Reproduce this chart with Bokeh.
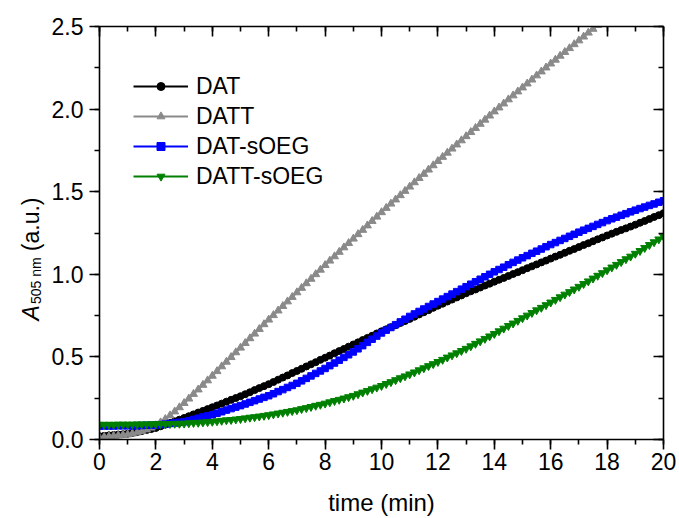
import math
from bokeh.plotting import figure
from bokeh.layouts import row
from bokeh.models import (Range1d, LinearAxis, SingleIntervalTicker, PrintfTickFormatter,
                          CustomJSTickFormatter, Legend, LegendItem)
from bokeh.core.properties import value
from bokeh.embed import file_html
from bokeh.resources import INLINE

# ---------------- data ----------------
time_step_min = 1.0 / 6.0          # one reading every 10 s
n_points = 121
time_min = [round(i * time_step_min, 4) for i in range(n_points)]

dat = [0.020,0.022,0.025,0.027,0.030,0.032,
       0.035,0.040,0.045,0.051,0.057,0.063,
       0.070,0.080,0.090,0.100,0.110,0.120,
       0.130,0.141,0.152,0.163,0.173,0.184,
       0.195,0.206,0.217,0.229,0.240,0.251,
       0.262,0.274,0.286,0.299,0.311,0.323,
       0.335,0.348,0.362,0.375,0.388,0.402,
       0.415,0.428,0.442,0.455,0.468,0.482,
       0.495,0.508,0.522,0.535,0.548,0.562,
       0.575,0.588,0.602,0.615,0.628,0.642,
       0.655,0.667,0.680,0.692,0.705,0.717,
       0.730,0.743,0.757,0.770,0.783,0.797,
       0.810,0.822,0.835,0.847,0.860,0.872,
       0.885,0.897,0.908,0.920,0.932,0.943,
       0.955,0.967,0.978,0.990,1.002,1.013,
       1.025,1.037,1.048,1.060,1.072,1.083,
       1.095,1.107,1.118,1.130,1.142,1.153,
       1.165,1.177,1.188,1.200,1.212,1.223,
       1.235,1.246,1.257,1.268,1.278,1.289,
       1.300,1.312,1.323,1.335,1.347,1.358,
       1.370]

datt = [0.012,0.015,0.018,0.021,0.024,0.027,
        0.030,0.035,0.042,0.050,0.060,0.071,
        0.085,0.103,0.123,0.145,0.169,0.194,
        0.220,0.247,0.275,0.302,0.330,0.357,
        0.385,0.413,0.442,0.470,0.498,0.527,
        0.555,0.583,0.612,0.640,0.668,0.697,
        0.725,0.752,0.780,0.807,0.835,0.862,
        0.890,0.917,0.945,0.972,1.000,1.027,
        1.055,1.082,1.108,1.135,1.162,1.188,
        1.215,1.242,1.268,1.295,1.322,1.348,
        1.375,1.401,1.427,1.452,1.478,1.504,
        1.530,1.556,1.582,1.607,1.633,1.659,
        1.685,1.710,1.735,1.760,1.785,1.810,
        1.835,1.860,1.885,1.910,1.935,1.960,
        1.985,2.009,2.033,2.058,2.082,2.106,
        2.130,2.154,2.178,2.203,2.227,2.251,
        2.275,2.298,2.322,2.345,2.368,2.392,
        2.415,2.438,2.462,2.485,2.508,2.532,
        2.555,2.578,2.600,2.623,2.645,2.668,
        2.690,2.712,2.735,2.758,2.780,2.802,
        2.825]

dat_soeg = [0.082,0.082,0.082,0.082,0.083,0.083,
            0.083,0.083,0.084,0.085,0.086,0.087,
            0.088,0.090,0.093,0.097,0.100,0.104,
            0.108,0.114,0.121,0.129,0.136,0.143,
            0.150,0.159,0.168,0.178,0.187,0.196,
            0.205,0.215,0.225,0.235,0.245,0.255,
            0.265,0.277,0.290,0.302,0.315,0.327,
            0.340,0.355,0.370,0.385,0.400,0.415,
            0.430,0.447,0.463,0.480,0.497,0.513,
            0.530,0.549,0.568,0.588,0.607,0.626,
            0.645,0.662,0.678,0.695,0.712,0.728,
            0.745,0.760,0.775,0.790,0.805,0.820,
            0.835,0.850,0.865,0.880,0.895,0.910,
            0.925,0.940,0.955,0.970,0.985,1.000,
            1.015,1.029,1.043,1.058,1.072,1.086,
            1.100,1.113,1.127,1.140,1.153,1.167,
            1.180,1.192,1.205,1.217,1.230,1.242,
            1.255,1.267,1.278,1.290,1.302,1.313,
            1.325,1.336,1.346,1.357,1.367,1.378,
            1.388,1.398,1.407,1.417,1.426,1.436,
            1.445]

datt_soeg = [0.090,0.090,0.090,0.090,0.091,0.091,
             0.091,0.091,0.092,0.092,0.092,0.093,
             0.093,0.094,0.094,0.095,0.096,0.096,
             0.097,0.099,0.101,0.102,0.104,0.106,
             0.108,0.111,0.114,0.117,0.119,0.122,
             0.125,0.129,0.133,0.136,0.140,0.144,
             0.148,0.153,0.158,0.163,0.168,0.173,
             0.178,0.185,0.191,0.198,0.205,0.211,
             0.218,0.226,0.234,0.241,0.249,0.257,
             0.265,0.275,0.285,0.295,0.305,0.315,
             0.325,0.337,0.348,0.360,0.372,0.383,
             0.395,0.407,0.420,0.432,0.445,0.457,
             0.470,0.483,0.497,0.510,0.523,0.537,
             0.550,0.565,0.580,0.595,0.610,0.625,
             0.640,0.656,0.672,0.688,0.703,0.719,
             0.735,0.751,0.767,0.783,0.798,0.814,
             0.830,0.846,0.862,0.878,0.893,0.909,
             0.925,0.942,0.958,0.975,0.992,1.008,
             1.025,1.042,1.058,1.075,1.092,1.108,
             1.125,1.142,1.160,1.178,1.195,1.212,
             1.230]

series_names = ["DAT", "DATT", "DAT-sOEG", "DATT-sOEG"]
series_values = [dat, datt, dat_soeg, datt_soeg]
series_colors = ["#000000", "#8a8a8a", "#0000ff", "#008000"]
series_markers = ["circle", "triangle", "square", "inverted_triangle"]
series_sizes = [7, 8, 6.5, 8]

x_title = "time (min)"
y_title_main, y_title_sub, y_title_unit = "A", "505 nm", "(a.u.)"
FONT = "Liberation Sans"
TICK_FS = "23px"

SIDE_W = 45
TOTAL_W, TOTAL_H = 679, 518
BORDER_TOP, BORDER_BOTTOM = 26, 77

# ---------------- main figure ----------------
yrange = Range1d(0, 2.5)
p = figure(width=TOTAL_W - SIDE_W, height=TOTAL_H, output_backend="svg", toolbar_location=None,
           x_range=Range1d(0, 20), y_range=yrange,
           min_border_left=99 - SIDE_W, min_border_right=16, min_border_top=BORDER_TOP,
           min_border_bottom=BORDER_BOTTOM,
           background_fill_color="white", border_fill_color="white")
p.xgrid.visible = False
p.ygrid.visible = False
p.outline_line_color = None

xticker = SingleIntervalTicker(interval=2, num_minor_ticks=2)
yticker = SingleIntervalTicker(interval=0.5, num_minor_ticks=2)

def style_axis(ax, ticker, inner=False, labels=True):
    ax.ticker = ticker
    ax.axis_line_color = "black"
    ax.axis_line_width = 1.6
    ax.major_tick_line_color = "black"
    ax.major_tick_line_width = 1.6
    ax.minor_tick_line_color = "black"
    ax.minor_tick_line_width = 1.6
    if inner:
        ax.major_tick_in, ax.major_tick_out = 10, 0
        ax.minor_tick_in, ax.minor_tick_out = 5, 0
    else:
        ax.major_tick_in, ax.major_tick_out = 0, 10
        ax.minor_tick_in, ax.minor_tick_out = 0, 5
    if labels:
        ax.major_label_text_font = FONT
        ax.major_label_text_font_size = TICK_FS
        ax.major_label_text_color = "black"
    else:
        ax.formatter = CustomJSTickFormatter(code="return ''")
        ax.major_label_text_font_size = "1px"
        ax.major_label_standoff = 0

xa = p.xaxis[0]
style_axis(xa, xticker)
xa.major_label_standoff = 3
xa.axis_label = x_title
xa.axis_label_text_font = FONT
xa.axis_label_text_font_size = "24px"
xa.axis_label_text_font_style = "normal"
xa.axis_label_text_color = "black"
xa.axis_label_standoff = 16

ya = p.yaxis[0]
style_axis(ya, yticker)
ya.formatter = PrintfTickFormatter(format="%.1f")
ya.major_label_standoff = 6

top = LinearAxis()
style_axis(top, xticker, inner=True, labels=False)
p.add_layout(top, "above")
right = LinearAxis()
style_axis(right, yticker, inner=True, labels=False)
p.add_layout(right, "right")

# ---------------- series ----------------
items = []
for name, vals, col, mk, sz in zip(series_names, series_values, series_colors,
                                   series_markers, series_sizes):
    r1 = p.line(time_min, vals, line_color=col, line_width=2)
    r2 = p.scatter(time_min, vals, marker=mk, size=sz, fill_color=col, line_color=col)
    items.append(LegendItem(label=name, renderers=[r1, r2]))

legend = Legend(items=items, location=(34, 248), padding=0, spacing=0,
                glyph_width=55, glyph_height=20, label_height=30, label_standoff=8,
                border_line_color=None, background_fill_alpha=0,
                label_text_font=FONT, label_text_font_size=TICK_FS,
                label_text_color="black", label_text_baseline="middle")
p.add_layout(legend, "center")

# ---------------- side panel with the y-axis title (shares the y range) ----------------
side = figure(width=SIDE_W, height=TOTAL_H, output_backend="svg", toolbar_location=None,
              x_range=Range1d(0, SIDE_W), y_range=yrange,
              x_axis_type=None, y_axis_type=None,
              min_border_left=0, min_border_right=0, min_border_top=BORDER_TOP,
              min_border_bottom=BORDER_BOTTOM,
              background_fill_color="white", border_fill_color="white")
side.xgrid.visible = False
side.ygrid.visible = False
side.outline_line_color = None

# x in the panel's pixel space, y in absorbance units so it lines up with the axis
side.text(x=[30], y=[0.720], text=[y_title_main], angle=math.pi / 2,
          text_font=value(FONT), text_font_size="23px", text_font_style="italic",
          text_align="left", text_baseline="alphabetic", text_color="black")
side.text(x=[35], y=[0.820], text=[y_title_sub], angle=math.pi / 2,
          text_font=value(FONT), text_font_size="14px",
          text_align="left", text_baseline="alphabetic", text_color="black")
side.text(x=[30], y=[1.140], text=[y_title_unit], angle=math.pi / 2,
          text_font=value(FONT), text_font_size="23px",
          text_align="left", text_baseline="alphabetic", text_color="black")

layout = row(side, p, spacing=0)
open("out.html", "w").write(file_html(layout, INLINE))
